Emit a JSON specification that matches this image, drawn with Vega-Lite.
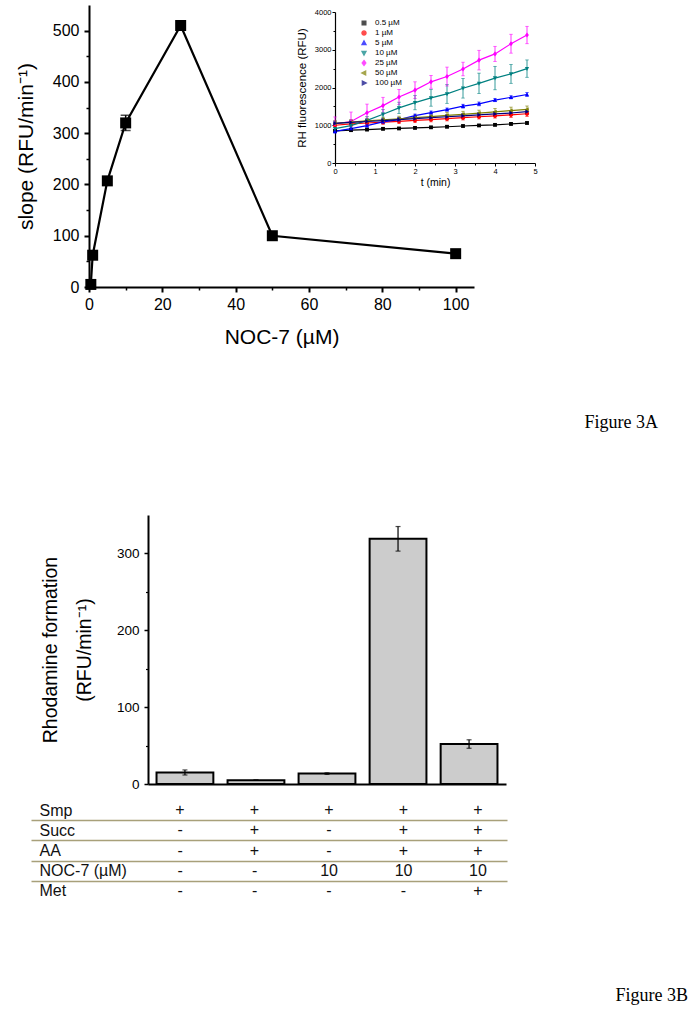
{
  "$schema": "https://vega.github.io/schema/vega-lite/v6.json",
  "padding": 0,
  "spacing": 9,
  "background": "white",
  "config": {
    "view": {"stroke": null},
    "font": "Liberation Sans",
    "axis": {"labelColor": "black", "titleColor": "black", "domainColor": "black", "tickColor": "black", "grid": false, "labelFlush": false, "labelOverlap": false, "titleFontWeight": "normal", "labelFont": "Liberation Sans", "titleFont": "Liberation Sans"}
  },
  "vconcat": [
    {
      "width": 695,
      "height": 400,
      "title": {"text": "Figure 3A", "orient": "bottom", "anchor": "end", "font": "Liberation Serif", "fontSize": 18, "fontWeight": "normal", "color": "black", "offset": 28, "dx": -37, "baseline": "alphabetic"},
      "resolve": {"scale": {"x": "independent", "y": "independent"}, "axis": {"x": "independent", "y": "independent"}},
      "layer": [
        {
          "data": {"values": [
            {"noc": 0.5, "slope": 5},
            {"noc": 1, "slope": 62},
            {"noc": 5, "slope": 207},
            {"noc": 10, "slope": 320, "err": 15},
            {"noc": 25, "slope": 510},
            {"noc": 50, "slope": 100},
            {"noc": 100, "slope": 65}
          ]},
          "resolve": {"axis": {"x": "independent", "y": "independent"}},
          "layer": [
            {
              "mark": {"type": "line", "color": "black", "strokeWidth": 2.2},
              "encoding": {
                "x": {"field": "noc", "type": "quantitative", "title": "NOC-7 (µM)", "scale": {"domain": [0, 105], "range": [89, 474], "nice": false, "zero": false},
                  "axis": {"orient": "bottom", "offset": -113, "values": [0, 20, 40, 60, 80, 100], "domainWidth": 2, "tickWidth": 2, "tickSize": 5, "labelFontSize": 16, "labelPadding": 4, "titleFontSize": 21, "titlePadding": 14}},
                "y": {"field": "slope", "type": "quantitative", "title": "slope (RFU/min⁻¹)", "scale": {"domain": [0, 550], "range": [287, 5], "nice": false},
                  "axis": {"orient": "left", "offset": -89, "values": [0, 100, 200, 300, 400, 500], "domainWidth": 2, "tickWidth": 2, "tickSize": 5, "labelFontSize": 16, "labelPadding": 5, "titleFontSize": 21, "titlePadding": 16}}
              }
            },
            {
              "transform": [{"filter": "datum.err > 0"}],
              "mark": {"type": "errorbar", "color": "black", "thickness": 1.5, "ticks": {"size": 10, "thickness": 1.5}},
              "encoding": {
                "x": {"field": "noc", "type": "quantitative", "axis": null},
                "y": {"field": "slope", "type": "quantitative", "axis": null},
                "yError": {"field": "err"}
              }
            },
            {
              "mark": {"type": "point", "shape": "square", "filled": true, "color": "black", "size": 121, "opacity": 1},
              "encoding": {
                "x": {"field": "noc", "type": "quantitative", "title": null,
                  "axis": {"orient": "bottom", "offset": -113, "values": [10, 30, 50, 70, 90], "labels": false, "domain": false, "tickWidth": 1.5, "tickSize": 3}},
                "y": {"field": "slope", "type": "quantitative", "title": null,
                  "axis": {"orient": "left", "offset": -89, "values": [50, 150, 250, 350, 450], "labels": false, "domain": false, "tickWidth": 1.5, "tickSize": 3}}
              }
            }
          ]
        },
        {
          "data": {"values": [
            {"s": "0.5 µM", "t": 0, "v": 850, "e": 30}, {"s": "0.5 µM", "t": 0.4, "v": 870, "e": 25}, {"s": "0.5 µM", "t": 0.8, "v": 885, "e": 25}, {"s": "0.5 µM", "t": 1.2, "v": 905, "e": 25}, {"s": "0.5 µM", "t": 1.6, "v": 915, "e": 25}, {"s": "0.5 µM", "t": 2.0, "v": 930, "e": 25}, {"s": "0.5 µM", "t": 2.4, "v": 945, "e": 25}, {"s": "0.5 µM", "t": 2.8, "v": 960, "e": 25}, {"s": "0.5 µM", "t": 3.2, "v": 980, "e": 25}, {"s": "0.5 µM", "t": 3.6, "v": 995, "e": 25}, {"s": "0.5 µM", "t": 4.0, "v": 1010, "e": 25}, {"s": "0.5 µM", "t": 4.4, "v": 1035, "e": 30}, {"s": "0.5 µM", "t": 4.8, "v": 1060, "e": 30},
            {"s": "1 µM", "t": 0, "v": 1000, "e": 60}, {"s": "1 µM", "t": 0.4, "v": 1035, "e": 60}, {"s": "1 µM", "t": 0.8, "v": 1060, "e": 60}, {"s": "1 µM", "t": 1.2, "v": 1085, "e": 60}, {"s": "1 µM", "t": 1.6, "v": 1105, "e": 60}, {"s": "1 µM", "t": 2.0, "v": 1130, "e": 60}, {"s": "1 µM", "t": 2.4, "v": 1150, "e": 60}, {"s": "1 µM", "t": 2.8, "v": 1175, "e": 60}, {"s": "1 µM", "t": 3.2, "v": 1200, "e": 60}, {"s": "1 µM", "t": 3.6, "v": 1225, "e": 60}, {"s": "1 µM", "t": 4.0, "v": 1250, "e": 60}, {"s": "1 µM", "t": 4.4, "v": 1275, "e": 70}, {"s": "1 µM", "t": 4.8, "v": 1305, "e": 70},
            {"s": "5 µM", "t": 0, "v": 840, "e": 50}, {"s": "5 µM", "t": 0.4, "v": 910, "e": 40}, {"s": "5 µM", "t": 0.8, "v": 990, "e": 40}, {"s": "5 µM", "t": 1.2, "v": 1090, "e": 40}, {"s": "5 µM", "t": 1.6, "v": 1150, "e": 40}, {"s": "5 µM", "t": 2.0, "v": 1255, "e": 40}, {"s": "5 µM", "t": 2.4, "v": 1335, "e": 40}, {"s": "5 µM", "t": 2.8, "v": 1415, "e": 40}, {"s": "5 µM", "t": 3.2, "v": 1505, "e": 50}, {"s": "5 µM", "t": 3.6, "v": 1565, "e": 50}, {"s": "5 µM", "t": 4.0, "v": 1665, "e": 40}, {"s": "5 µM", "t": 4.4, "v": 1740, "e": 40}, {"s": "5 µM", "t": 4.8, "v": 1815, "e": 50},
            {"s": "10 µM", "t": 0, "v": 910, "e": 100}, {"s": "10 µM", "t": 0.4, "v": 990, "e": 100}, {"s": "10 µM", "t": 0.8, "v": 1130, "e": 100}, {"s": "10 µM", "t": 1.2, "v": 1290, "e": 130}, {"s": "10 µM", "t": 1.6, "v": 1460, "e": 150}, {"s": "10 µM", "t": 2.0, "v": 1600, "e": 190}, {"s": "10 µM", "t": 2.4, "v": 1725, "e": 220}, {"s": "10 µM", "t": 2.8, "v": 1830, "e": 250}, {"s": "10 µM", "t": 3.2, "v": 1980, "e": 260}, {"s": "10 µM", "t": 3.6, "v": 2110, "e": 270}, {"s": "10 µM", "t": 4.0, "v": 2250, "e": 310}, {"s": "10 µM", "t": 4.4, "v": 2360, "e": 250}, {"s": "10 µM", "t": 4.8, "v": 2500, "e": 230},
            {"s": "25 µM", "t": 0, "v": 1040, "e": 180}, {"s": "25 µM", "t": 0.4, "v": 1100, "e": 250}, {"s": "25 µM", "t": 0.8, "v": 1330, "e": 230}, {"s": "25 µM", "t": 1.2, "v": 1520, "e": 220}, {"s": "25 µM", "t": 1.6, "v": 1750, "e": 200}, {"s": "25 µM", "t": 2.0, "v": 1930, "e": 220}, {"s": "25 µM", "t": 2.4, "v": 2150, "e": 170}, {"s": "25 µM", "t": 2.8, "v": 2290, "e": 250}, {"s": "25 µM", "t": 3.2, "v": 2490, "e": 180}, {"s": "25 µM", "t": 3.6, "v": 2725, "e": 260}, {"s": "25 µM", "t": 4.0, "v": 2890, "e": 200}, {"s": "25 µM", "t": 4.4, "v": 3160, "e": 250}, {"s": "25 µM", "t": 4.8, "v": 3390, "e": 230},
            {"s": "50 µM", "t": 0, "v": 1050, "e": 70}, {"s": "50 µM", "t": 0.4, "v": 1085, "e": 70}, {"s": "50 µM", "t": 0.8, "v": 1115, "e": 70}, {"s": "50 µM", "t": 1.2, "v": 1145, "e": 70}, {"s": "50 µM", "t": 1.6, "v": 1170, "e": 70}, {"s": "50 µM", "t": 2.0, "v": 1200, "e": 70}, {"s": "50 µM", "t": 2.4, "v": 1230, "e": 70}, {"s": "50 µM", "t": 2.8, "v": 1260, "e": 80}, {"s": "50 µM", "t": 3.2, "v": 1290, "e": 80}, {"s": "50 µM", "t": 3.6, "v": 1320, "e": 80}, {"s": "50 µM", "t": 4.0, "v": 1355, "e": 90}, {"s": "50 µM", "t": 4.4, "v": 1390, "e": 90}, {"s": "50 µM", "t": 4.8, "v": 1420, "e": 90},
            {"s": "100 µM", "t": 0, "v": 1050, "e": 60}, {"s": "100 µM", "t": 0.4, "v": 1075, "e": 60}, {"s": "100 µM", "t": 0.8, "v": 1100, "e": 60}, {"s": "100 µM", "t": 1.2, "v": 1125, "e": 60}, {"s": "100 µM", "t": 1.6, "v": 1150, "e": 60}, {"s": "100 µM", "t": 2.0, "v": 1175, "e": 60}, {"s": "100 µM", "t": 2.4, "v": 1200, "e": 60}, {"s": "100 µM", "t": 2.8, "v": 1225, "e": 60}, {"s": "100 µM", "t": 3.2, "v": 1250, "e": 60}, {"s": "100 µM", "t": 3.6, "v": 1275, "e": 60}, {"s": "100 µM", "t": 4.0, "v": 1300, "e": 60}, {"s": "100 µM", "t": 4.4, "v": 1325, "e": 60}, {"s": "100 µM", "t": 4.8, "v": 1360, "e": 60}
          ]},
          "resolve": {"axis": {"x": "independent", "y": "independent"}},
          "layer": [
            {
              "mark": {"type": "line", "strokeWidth": 1.2},
              "encoding": {
                "x": {"field": "t", "type": "quantitative", "title": "t (min)", "scale": {"domain": [0, 5], "range": [335, 535], "nice": false, "zero": false},
                  "axis": {"orient": "bottom", "offset": -237, "values": [0, 1, 2, 3, 4, 5], "format": "d", "domainWidth": 1.2, "tickWidth": 1, "tickSize": 3, "labelFontSize": 7.5, "labelPadding": 1, "titleFontSize": 10.5, "titlePadding": 3}},
                "y": {"field": "v", "type": "quantitative", "title": "RH fluorescence (RFU)", "scale": {"domain": [0, 4000], "range": [163, 12], "nice": false},
                  "axis": {"orient": "left", "offset": -335, "values": [0, 1000, 2000, 3000, 4000], "format": "d", "domainWidth": 1.2, "tickWidth": 1, "tickSize": 3, "labelFontSize": 7.5, "labelPadding": 1, "titleFontSize": 11.5, "titlePadding": 7}},
                "color": {"field": "s", "type": "nominal",
                  "scale": {"domain": ["0.5 µM", "1 µM", "5 µM", "10 µM", "25 µM", "50 µM", "100 µM"], "range": ["#000000", "#ff0000", "#0000ff", "#008080", "#ff00ff", "#808000", "#000080"]},
                  "legend": {"orient": "none", "legendX": 359, "legendY": 18, "title": null, "symbolType": "M-2,0H2", "symbolSize": 72, "symbolStrokeWidth": 1.2, "labelFontSize": 8, "labelOffset": 6, "rowPadding": -1, "padding": 0, "labelColor": "black"}}
              }
            },
            {
              "mark": {"type": "errorbar", "thickness": 0.8, "ticks": {"size": 3.5, "thickness": 0.8}},
              "encoding": {
                "x": {"field": "t", "type": "quantitative", "axis": null},
                "y": {"field": "v", "type": "quantitative", "axis": null},
                "yError": {"field": "e"},
                "color": {"field": "s", "type": "nominal"}
              }
            },
            {
              "mark": {"type": "point", "filled": true, "size": 72, "opacity": 1, "strokeWidth": 0.5},
              "encoding": {
                "x": {"field": "t", "type": "quantitative", "title": null,
                  "axis": {"orient": "bottom", "offset": -237, "values": [0.5, 1.5, 2.5, 3.5, 4.5], "labels": false, "domain": false, "tickWidth": 1, "tickSize": 2}},
                "y": {"field": "v", "type": "quantitative", "title": null,
                  "axis": {"orient": "left", "offset": -335, "values": [500, 1500, 2500, 3500], "labels": false, "domain": false, "tickWidth": 1, "tickSize": 2}},
                "color": {"field": "s", "type": "nominal"},
                "shape": {"field": "s", "type": "nominal", "legend": null,
                  "scale": {"domain": ["0.5 µM", "1 µM", "5 µM", "10 µM", "25 µM", "50 µM", "100 µM"], "range": ["M-0.45,-0.45H0.45V0.45H-0.45Z", "M-0.5,0A0.5,0.5 0 1,0 0.5,0A0.5,0.5 0 1,0 -0.5,0Z", "M0,-0.55L0.5,0.4H-0.5Z", "M0,0.55L0.5,-0.4H-0.5Z", "M0,-0.6L0.45,0L0,0.6L-0.45,0Z", "M-0.55,0L0.4,-0.5V0.5Z", "M0.55,0L-0.4,-0.5V0.5Z"]}}
              }
            }
          ]
        }
      ]
    },
    {
      "width": 695,
      "height": 532,
      "title": {"text": "Figure 3B", "orient": "bottom", "anchor": "end", "font": "Liberation Serif", "fontSize": 18, "fontWeight": "normal", "color": "black", "offset": 20, "dx": -7, "baseline": "alphabetic"},
      "resolve": {"scale": {"x": "independent", "y": "independent"}, "axis": {"x": "independent", "y": "independent"}},
      "layer": [
        {
          "data": {"values": [
            {"cond": "1", "v": 15, "e": 3.3},
            {"cond": "2", "v": 5, "e": 0},
            {"cond": "3", "v": 13.5, "e": 1},
            {"cond": "4", "v": 319, "e": 16},
            {"cond": "5", "v": 52, "e": 5.5}
          ]},
          "resolve": {"axis": {"x": "independent", "y": "independent"}},
          "layer": [
            {
              "mark": {"type": "bar", "fill": "#cccccc", "stroke": "black", "strokeWidth": 2},
              "encoding": {
                "x": {"field": "cond", "type": "nominal", "title": null, "scale": {"type": "band", "range": [148, 506], "paddingInner": 0.2, "paddingOuter": 0.12},
                  "axis": {"orient": "bottom", "offset": -197, "labels": false, "ticks": false, "domainWidth": 2}},
                "y": {"field": "v", "type": "quantitative", "title": ["Rhodamine formation", "(RFU/min⁻¹)"], "scale": {"domain": [0, 350], "range": [335, 66], "nice": false},
                  "axis": {"orient": "left", "offset": -148, "values": [0, 100, 200, 300], "titleLineHeight": 34, "domainWidth": 2, "tickWidth": 1.5, "tickSize": 4, "labelFontSize": 13.5, "labelPadding": 5, "titleFontSize": 19.5, "titlePadding": 22}}
              }
            },
            {
              "mark": {"type": "errorbar", "color": "black", "thickness": 1.2, "ticks": {"size": 5, "thickness": 1.2}},
              "encoding": {
                "x": {"field": "cond", "type": "nominal", "axis": null},
                "y": {"field": "v", "type": "quantitative", "title": null,
                  "axis": {"orient": "left", "offset": -148, "values": [50, 150, 250], "labels": false, "domain": false, "tickWidth": 1.2, "tickSize": 2.5}},
                "yError": {"field": "e"}
              }
            }
          ]
        },
        {
          "data": {"values": [
            {"row": "Smp", "col": "1", "txt": "+"}, {"row": "Smp", "col": "2", "txt": "+"}, {"row": "Smp", "col": "3", "txt": "+"}, {"row": "Smp", "col": "4", "txt": "+"}, {"row": "Smp", "col": "5", "txt": "+"},
            {"row": "Succ", "col": "1", "txt": "-"}, {"row": "Succ", "col": "2", "txt": "+"}, {"row": "Succ", "col": "3", "txt": "-"}, {"row": "Succ", "col": "4", "txt": "+"}, {"row": "Succ", "col": "5", "txt": "+"},
            {"row": "AA", "col": "1", "txt": "-"}, {"row": "AA", "col": "2", "txt": "+"}, {"row": "AA", "col": "3", "txt": "-"}, {"row": "AA", "col": "4", "txt": "+"}, {"row": "AA", "col": "5", "txt": "+"},
            {"row": "NOC-7  (µM)", "col": "1", "txt": "-"}, {"row": "NOC-7  (µM)", "col": "2", "txt": "-"}, {"row": "NOC-7  (µM)", "col": "3", "txt": "10"}, {"row": "NOC-7  (µM)", "col": "4", "txt": "10"}, {"row": "NOC-7  (µM)", "col": "5", "txt": "10"},
            {"row": "Met", "col": "1", "txt": "-"}, {"row": "Met", "col": "2", "txt": "-"}, {"row": "Met", "col": "3", "txt": "-"}, {"row": "Met", "col": "4", "txt": "-"}, {"row": "Met", "col": "5", "txt": "+"}
          ]},
          "mark": {"type": "text", "fontSize": 16, "color": "#111111", "align": "center", "baseline": "middle"},
          "encoding": {
            "x": {"field": "col", "type": "nominal", "scale": {"type": "point", "domain": ["0", "1", "2", "3", "4", "5"], "range": [31, 507], "padding": 0.695, "align": 0.72}, "axis": null},
            "y": {"field": "row", "type": "nominal", "sort": ["Smp", "Succ", "AA", "NOC-7  (µM)", "Met"],
              "scale": {"type": "band", "range": [351, 452], "paddingInner": 0, "paddingOuter": 0},
              "axis": {"orient": "left", "offset": -31, "domain": false, "ticks": false, "tickSize": 0, "labelAlign": "left", "labelPadding": -8, "labelFontSize": 16, "labelColor": "#111111", "title": null, "grid": true, "tickBand": "extent", "gridColor": "#a8a07a", "gridWidth": 1.5,
                "gridOpacity": {"condition": {"test": "datum.value === 'Smp' || datum.value === 'Succ' || datum.value === 'AA' || datum.value === 'NOC-7  (µM)'", "value": 1}, "value": 0}}},
            "text": {"field": "txt"}
          }
        }
      ]
    }
  ]
}
